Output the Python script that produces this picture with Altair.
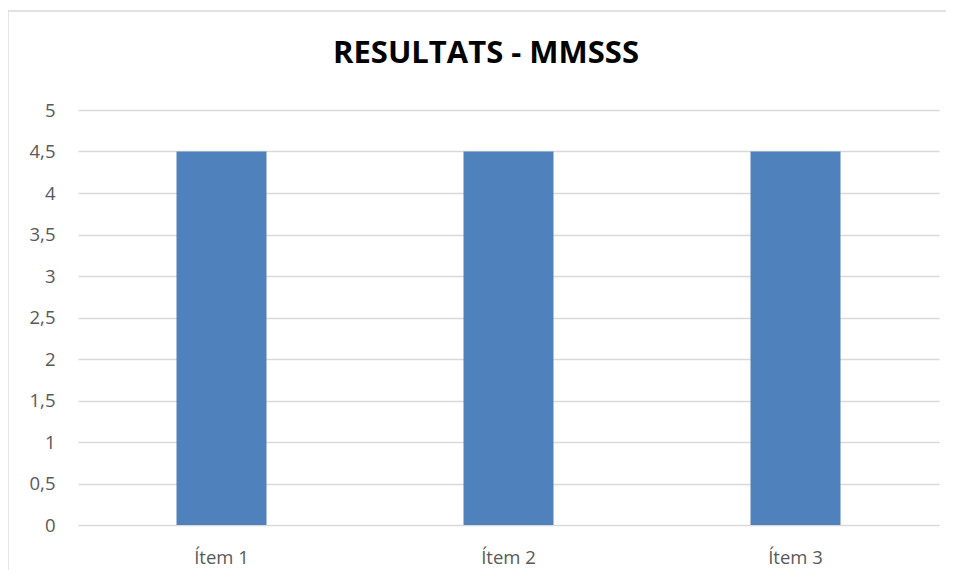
import altair as alt
import pandas as pd

categories = ["Ítem 1", "Ítem 2", "Ítem 3"]
values = [4.5, 4.5, 4.5]
y_ticks = [0, 0.5, 1, 1.5, 2, 2.5, 3, 3.5, 4, 4.5, 5]
title_text = "RESULTATS - MMSSS"

df = pd.DataFrame({"item": categories, "value": values})
one = pd.DataFrame({"label": [title_text]})

FONT = "Open Sans"
LABEL_COLOR = "#595959"
GRID = "#d9d9d9"

bars = alt.Chart(df).mark_bar(size=90, color="#4f81bd").encode(
    x=alt.X(
        "item:N",
        sort=categories,
        title=None,
        scale=alt.Scale(paddingInner=0, paddingOuter=0),
        axis=alt.Axis(
            labelAngle=0,
            ticks=False,
            tickSize=0,
            domain=False,
            grid=False,
            labelFont=FONT,
            labelFontSize=18.5,
            labelColor=LABEL_COLOR,
            labelBaseline="alphabetic",
            labelPadding=38,
        ),
    ),
    y=alt.Y(
        "value:Q",
        title=None,
        scale=alt.Scale(domain=[0, 5], nice=False, zero=True),
        axis=alt.Axis(
            values=y_ticks,
            format="~g",
            labelExpr="replace(datum.label, '.', ',')",
            ticks=False,
            tickSize=0,
            domain=False,
            grid=True,
            gridColor=GRID,
            gridWidth=1.3,
            labelFont=FONT,
            labelFontSize=18.5,
            labelColor=LABEL_COLOR,
            labelPadding=23,
        ),
    ),
)

border_top = alt.Chart(one).mark_rule(color=GRID, strokeWidth=1.3).encode(
    x=alt.value(-70), x2=alt.value(900), y=alt.value(-99)
)
border_left = alt.Chart(one).mark_rule(color=GRID, strokeWidth=1.3).encode(
    x=alt.value(-70), y=alt.value(-99), y2=alt.value(480)
)
title = alt.Chart(one).mark_text(
    font=FONT, fontSize=31, fontWeight="bold", color="#000000",
    align="center", baseline="alphabetic",
).encode(text="label:N", x=alt.value(408), y=alt.value(-47))

chart = (
    alt.layer(border_top, border_left, bars, title)
    .properties(
        width=861,
        height=415,
        autosize=alt.AutoSizeParams(type="none"),
        padding={"left": 70, "top": 102, "right": 7, "bottom": 45},
        background="white",
    )
    .configure_view(strokeWidth=0, stroke="transparent")
)

chart.save("out.html", embed_options={"renderer": "svg", "actions": False})
